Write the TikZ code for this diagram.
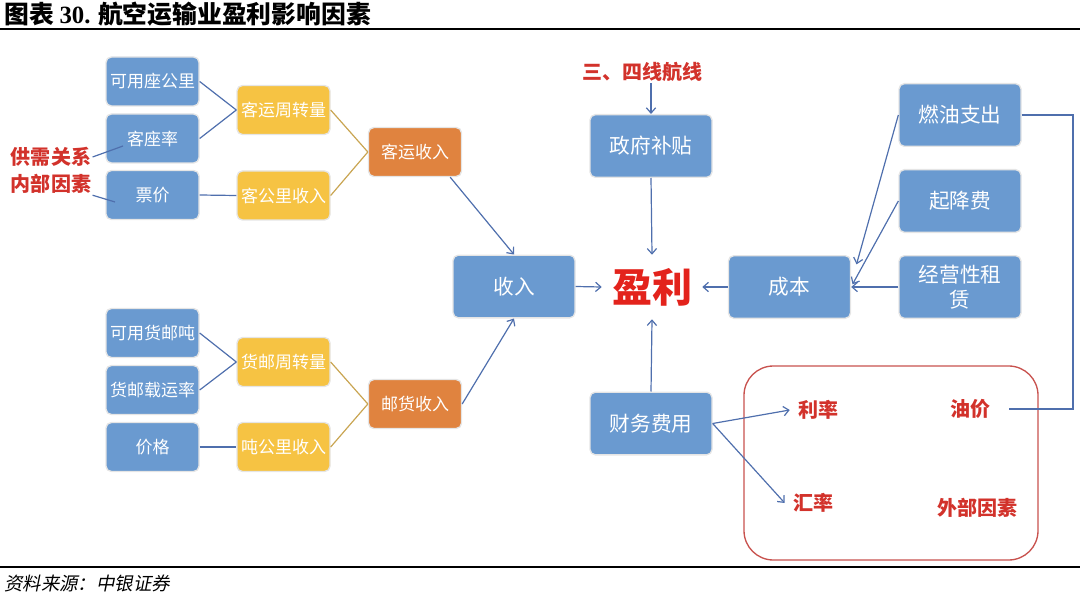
\documentclass[tikz,border=0pt]{standalone}
\usepackage{fontspec}
\setmainfont{Liberation Serif}
\newfontfamily\cjk{Noto Sans CJK SC}
\newfontfamily\cjkit[FakeSlant=0.2]{Noto Sans CJK SC}
\usepackage{xcolor}
\definecolor{boxblue}{HTML}{6A9AD0}
\definecolor{boxyellow}{HTML}{F6C343}
\definecolor{boxorange}{HTML}{E0833F}
\definecolor{linkblue}{HTML}{4F6FAD}
\definecolor{linkgold}{HTML}{C9A552}
\definecolor{labelred}{HTML}{D2322B}
\definecolor{profitred}{HTML}{E3231C}
\definecolor{framered}{HTML}{C8524E}
\usetikzlibrary{arrows.meta}

\tikzset{
  factor/.style={draw=gray!20, line width=1pt, rounded corners=4pt, minimum width=69.75pt, minimum height=36.75pt, inner sep=1pt, text=white, font=\cjk\fontsize{12.75}{14}\selectfont},
  block/.style={factor, fill=boxblue, minimum width=91.5pt, minimum height=47pt, align=center, font=\cjk\fontsize{15.5}{19}\selectfont},
  note/.style={text=labelred, inner sep=1pt, font=\cjk\bfseries\fontsize{15}{18}\selectfont},
  tie/.style={linkblue, line width=0.9pt},
  goldtie/.style={linkgold, line width=0.9pt},
  conn/.style={tie, -{Straight Barb[length=4pt,width=7pt]}}
}

\begin{document}
\begin{tikzpicture}[x=0.75pt, y=-0.75pt]
            \useasboundingbox (0,0) rectangle (1080,595);
            % title and rules
            \node[anchor=west, inner sep=0, font=\cjk\bfseries\fontsize{18.6}{20}\selectfont] (title) at (4,14) {图表 {\rmfamily\bfseries 30.} 航空运输业盈利影响因素};
            \draw[line width=1.5pt] (0,29) -- (1080,29);
            \draw[line width=1.5pt] (0,567) -- (1080,567);
            \node[anchor=west, inner sep=0, font=\cjkit\fontsize{13.8}{15}\selectfont] (source) at (4,583) {资料来源：中银证券};
            % revenue side
            \foreach \n/\t/\y in {avseat/可用座公里/81.5, loadf/客座率/138.5, fare/票价/195, avton/可用货邮吨/333, cloadf/货邮载运率/390, price/价格/447}
                \node[factor, fill=boxblue] (\n) at (152.5,\y) {\t};
            \foreach \n/\t/\y in {pturn/客运周转量/110, pyield/客公里收入/195.5, cturn/货邮周转量/362, cyield/吨公里收入/447}
                \node[factor, fill=boxyellow] (\n) at (283.5,\y) {\t};
            \node[factor, fill=boxorange] (prev) at (415,152) {客运收入};
            \node[factor, fill=boxorange] (crev) at (415,404) {邮货收入};
            \draw[tie] (avseat.east) -- (pturn.west);
            \draw[tie] (loadf.east) -- (pturn.west);
            \draw[tie] (fare.east) -- (pyield.west);
            \draw[tie] (avton.east) -- (cturn.west);
            \draw[tie] (cloadf.east) -- (cturn.west);
            \draw[tie] (price.east) -- (cyield.west);
            \draw[goldtie] (pturn.east) -- (prev.west);
            \draw[goldtie] (pyield.east) -- (prev.west);
            \draw[goldtie] (cturn.east) -- (crev.west);
            \draw[goldtie] (cyield.east) -- (crev.west);
            \node[note] (supply) at (51,157) {供需关系};
            \node[note] (inner) at (51,184) {内部因素};
            \coordinate (lfpt) at (123,146);
            \coordinate (farept) at (115,202);
            \draw[tie] (supply.east) -- (lfpt);
            \draw[tie] (inner.south east) -- (farept);
            % centre
            \node[block] (rev) at (514,286.5) {收入};
            \node[inner sep=0, minimum width=75pt, minimum height=48pt, text=profitred, font=\cjk\bfseries\fontsize{30}{32}\selectfont] (profit) at (652,287) {盈利};
            \node[block] (subsidy) at (651,146) {政府补贴};
            \node[note] (route) at (642,72) {三、四线航线};
            \node[block] (fin) at (651,423.5) {财务费用};
            \draw[conn] ([xshift=-9pt]prev.south east) -- (rev.north);
            \draw[conn] (crev.east) -- (rev.south);
            \draw[conn] (rev.east) -- (profit.west);
            \draw[conn] (route.south -| subsidy.north) -- (subsidy.north);
            \draw[conn] (subsidy.south) -- (profit.north);
            \draw[conn] (fin.north) -- (profit.south);
            % cost side
            \node[block] (cost) at (789.5,287) {成本};
            \node[block] (fuel) at (960,115) {燃油支出};
            \node[block] (landing) at (960,201) {起降费};
            \node[block] (lease) at (960,287) {经营性租\\赁};
            \draw[conn] (cost.west) -- (profit.east);
            \draw[conn] (fuel.west) -- ([xshift=4pt, yshift=-7pt]cost.north east);
            \draw[conn] (landing.west) -- ([xshift=1pt, yshift=2pt]cost.east);
            \draw[conn] (lease.west) -- (cost.east);
            % external factors
            \draw[framered, line width=1pt, rounded corners=22pt] (744,366) rectangle (1038,560);
            \node[note, inner sep=6pt] (rate) at (818,410) {利率};
            \node[note, inner sep=6pt] (fx) at (813,503) {汇率};
            \node[note] (oil) at (970,409) {油价};
            \node[note] (ext) at (977,508) {外部因素};
            \draw[conn] (fin.east) -- (rate.west);
            \draw[conn] (fin.east) -- (fx.west);
            \coordinate (bend) at (1073,115);
            \draw[tie] (fuel.east) -- (bend) |- ([xshift=13pt]oil.east);
        \end{tikzpicture}
\end{document}
